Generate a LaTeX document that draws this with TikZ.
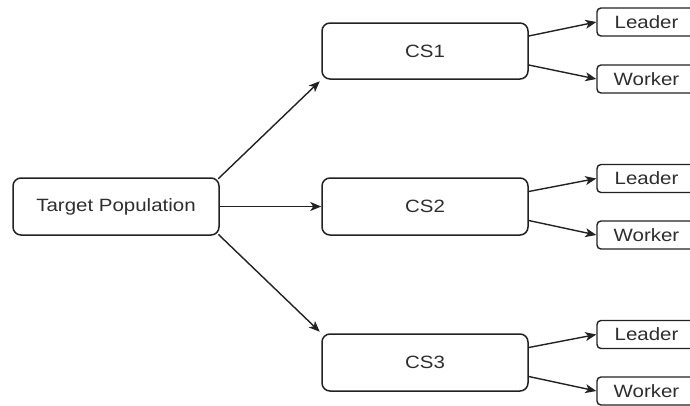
\documentclass[tikz,border=0pt]{standalone}
\usepackage{fontspec}
\setmainfont{Liberation Sans}[FakeStretch=1.15]
\usetikzlibrary{arrows.meta,calc}
\definecolor{edgecol}{HTML}{222222}
\definecolor{txtcol}{HTML}{2E2E2E}
\tikzset{
  bigbox/.style={draw=edgecol, line width=1.5pt, rounded corners=8pt, fill=white,
    inner sep=0pt, text=txtcol, font=\fontsize{17.8}{19}\selectfont},
  smallbox/.style={draw=edgecol, line width=1.4pt, rounded corners=4pt, fill=white,
    inner sep=0pt, text=txtcol, font=\fontsize{17.8}{19}\selectfont},
  conn/.style={draw=edgecol, line width=1.4pt, -{Stealth[length=11pt,width=9pt,inset=3pt]}},
}
\begin{document}
\begin{tikzpicture}[x=1pt,y=-1pt]
\useasboundingbox (0,0) rectangle (690,405);
\clip (0,0) rectangle (690,405);
\fill[white] (0,0) rectangle (690,405);
% main boxes
\node[bigbox, minimum width=206pt, minimum height=57pt] (tp) at (116,206.5) {Target Population};
\node[bigbox, minimum width=206pt, minimum height=56pt] (cs1) at (425,51) {CS1};
\node[bigbox, minimum width=206pt, minimum height=57pt] (cs2) at (425,206.5) {CS2};
\node[bigbox, minimum width=206pt, minimum height=57pt] (cs3) at (425,362.5) {CS3};
% leaf boxes
\node[smallbox, minimum width=99pt, minimum height=28pt] (l1) at (646.5,22) {Leader};
\node[smallbox, minimum width=99pt, minimum height=28pt] (w1) at (646.5,79) {Worker};
\node[smallbox, minimum width=99pt, minimum height=28pt] (l2) at (646.5,178.5) {Leader};
\node[smallbox, minimum width=99pt, minimum height=28pt] (w2) at (646.5,235) {Worker};
\node[smallbox, minimum width=99pt, minimum height=28pt] (l3) at (646.5,334.5) {Leader};
\node[smallbox, minimum width=99pt, minimum height=28pt] (w3) at (646.5,391) {Worker};
% connectors from target population
\draw[conn] ($(tp.north east)+(-1.5,1.5)$) -- ($(cs1.south west)+(-1.5,1.5)$);
\draw[conn] (tp.east) -- (cs2.west);
\draw[conn] ($(tp.south east)+(-1.5,-1.5)$) -- ($(cs3.north west)+(-1.5,-1.5)$);
% connectors to leaders and workers
\draw[conn] ($(cs1.east)+(0,-15)$) -- (l1.west);
\draw[conn] ($(cs1.east)+(0,14)$) -- (w1.west);
\draw[conn] ($(cs2.east)+(0,-15)$) -- (l2.west);
\draw[conn] ($(cs2.east)+(0,14)$) -- (w2.west);
\draw[conn] ($(cs3.east)+(0,-15)$) -- (l3.west);
\draw[conn] ($(cs3.east)+(0,14)$) -- (w3.west);
\end{tikzpicture}
\end{document}
